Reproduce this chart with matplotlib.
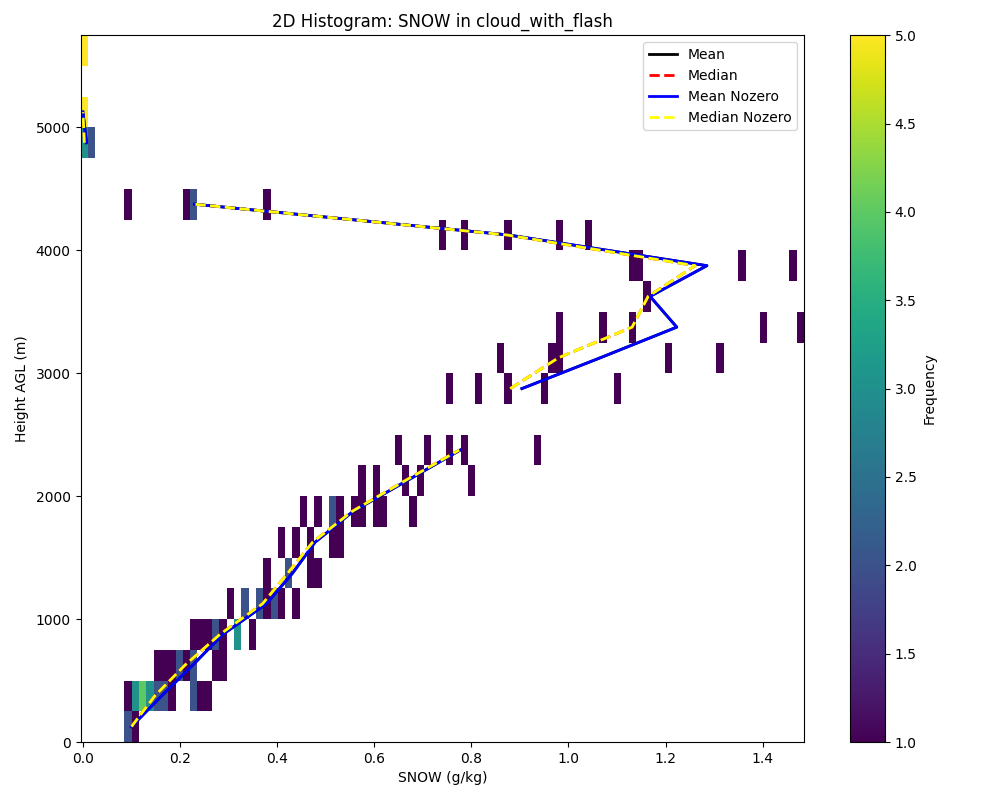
#!/usr/bin/env python

import matplotlib as mpl
mpl.use('Agg')
import matplotlib.pyplot as plt
import numpy as np

# histogram cells: bin index along snow, bin index along height, count
cell_col = [6, 7,
            6, 7, 8, 9, 10, 11, 12, 15, 16, 17,
            10, 11, 12, 13, 14, 15, 18, 19,
            15, 16, 17, 18, 19, 21, 23,
            20, 22, 24, 25, 26, 27, 29,
            25, 28, 31, 32,
            27, 29, 31, 34, 35,
            30, 32, 34, 35, 37, 38, 40, 41, 45,
            38, 40, 44, 46, 53,
            43, 47, 50, 52, 62,
            50, 54, 58, 63, 73,
            57, 64, 65, 80, 87,
            65, 71, 75, 93, 98,
            77,
            75, 76, 90, 97,
            49, 52, 58, 65, 69,
            6, 14, 15, 25,
            0, 1,
            0,
            0]
cell_row = [0, 0,
            1, 1, 1, 1, 1, 1, 1, 1, 1, 1,
            2, 2, 2, 2, 2, 2, 2, 2,
            3, 3, 3, 3, 3, 3, 3,
            4, 4, 4, 4, 4, 4, 4,
            5, 5, 5, 5,
            6, 6, 6, 6, 6,
            7, 7, 7, 7, 7, 7, 7, 7, 7,
            8, 8, 8, 8, 8,
            9, 9, 9, 9, 9,
            11, 11, 11, 11, 11,
            12, 12, 12, 12, 12,
            13, 13, 13, 13, 13,
            14,
            15, 15, 15, 15,
            16, 16, 16, 16, 16,
            17, 17, 17, 17,
            19, 19,
            20,
            22]
cell_count = [2, 1,
              1, 3, 4, 3, 2, 2, 1, 2, 1, 1,
              1, 1, 1, 2, 1, 2, 1, 1,
              1, 1, 1, 2, 1, 3, 1,
              1, 2, 2, 1, 2, 1, 1,
              1, 2, 1, 1,
              1, 1, 1, 1, 1,
              1, 1, 2, 1, 1, 1, 1, 1, 1,
              1, 1, 1, 1, 1,
              1, 1, 1, 1, 1,
              1, 1, 1, 1, 1,
              1, 1, 1, 1, 1,
              1, 1, 1, 1, 1,
              1,
              1, 1, 1, 1,
              1, 1, 1, 1, 1,
              1, 1, 2, 1,
              3, 2,
              5,
              5]

height = [125, 375, 625, 875, 1125, 1375, 1625, 1875, 2125, 2375, 2625, 2875,
          3125, 3375, 3625, 3875, 4125, 4375, 4625, 4875, 5125]
mean_nozero = [0.100, 0.162, 0.226, 0.288, 0.378, 0.432, 0.478, 0.556, 0.667, 0.777, np.nan, 0.904,
               1.065, 1.223, 1.168, 1.285, 0.876, 0.230, np.nan, 0.0074, 0.0]
median_nozero = [0.100, 0.148, 0.210, 0.282, 0.370, 0.422, 0.473, 0.554, 0.663, 0.775, np.nan, 0.880,
                 0.979, 1.131, 1.164, 1.261, 0.873, 0.230, np.nan, 0.003, 0.0]
mean = mean_nozero
median = median_nozero

n_xbins = 99
n_ybins = 23
x_left = -0.005
x_right = 1.485
y_top = 5750

xedges = np.linspace(x_left, x_right, n_xbins + 1)
yedges = np.linspace(0, y_top, n_ybins + 1)
xcenter = (xedges[:-1] + xedges[1:]) / 2.
ycenter = (yedges[:-1] + yedges[1:]) / 2.

fig = plt.figure(figsize=(10, 8), dpi=100)
ax = fig.add_axes([0.0805, 0.0725, 0.7235, 0.8835])
cax = fig.add_axes([0.8495, 0.0725, 0.0355, 0.8835])

h = ax.hist2d(xcenter[cell_col], ycenter[cell_row], bins=[xedges, yedges], weights=cell_count,
              cmin=1, cmap='viridis')

ax.plot(mean, height, color='black', linewidth=2, label='Mean')
ax.plot(median, height, color='red', linewidth=2, linestyle='--', label='Median')
ax.plot(mean_nozero, height, color='blue', linewidth=2, label='Mean Nozero')
ax.plot(median_nozero, height, color='yellow', linewidth=2, linestyle='--', label='Median Nozero')

ax.set_xlim(x_left, x_right)
ax.set_ylim(0, y_top)
ax.set_title("2D Histogram: SNOW in cloud_with_flash")
ax.set_xlabel("SNOW (g/kg)")
ax.set_ylabel("Height AGL (m)", labelpad=5)
ax.legend(loc='upper right')

fig.colorbar(h[3], cax=cax, label='Frequency')

plt.savefig("out.png")
